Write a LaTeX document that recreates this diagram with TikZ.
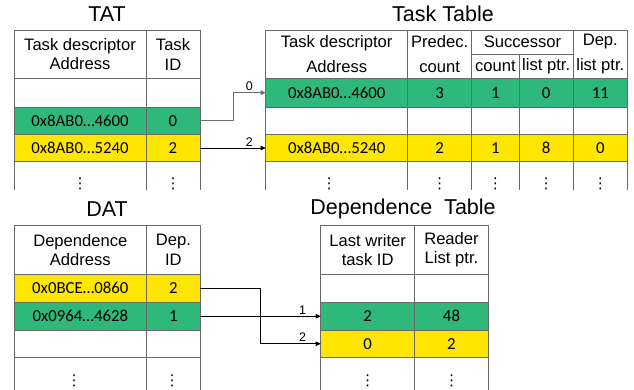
\documentclass[tikz,border=0pt]{standalone}
\usepackage{fontspec}
\setmainfont{Liberation Sans}
\newfontfamily\datafont{Carlito}
\newfontfamily\symfont{DejaVu Sans}
\usetikzlibrary{arrows.meta}
\definecolor{cgreen}{RGB}{46,184,122}
\definecolor{cyellow}{RGB}{255,230,0}
\definecolor{gridc}{RGB}{105,105,105}
\definecolor{arrgray}{RGB}{110,110,110}
\tikzset{
  cellbox/.style={draw=gridc,line width=0.9pt,inner sep=0pt,outer sep=0pt,align=center,
    font=\datafont\fontsize{16.8}{19}\selectfont},
  hdr/.style={font=\fontsize{16.6}{19.5}\selectfont},
  hdrtt/.style={font=\fontsize{16.6}{24.5}\selectfont},
  title/.style={font=\fontsize{21.5}{24}\selectfont,inner sep=0pt},
  openline/.style={draw=gridc,line width=0.9pt},
  dotsnode/.style={inner sep=0pt,font=\symfont\fontsize{15}{15}\selectfont},
  arr/.style={line width=0.8pt,-{Triangle[length=5pt,width=4.5pt]}},
  arrlab/.style={font=\fontsize{12.5}{12.5}\selectfont,inner sep=1.5pt}
}
\newcommand\mycell[8][]{\node[cellbox,#1,fill=#7,minimum width={#5-#3},minimum height={#6-#4}] (#2) at ({(#3+#5)/2},{(#4+#6)/2}) {#8};}
\begin{document}
\begin{tikzpicture}[x=1pt,y=-1pt]
\useasboundingbox (0,0) rectangle (634,390);
% ---------------- TAT ----------------
\node[title] (tat-title) at (107,14) {TAT};
\mycell[hdr]{tat-h1}{14}{30}{146}{78.5}{white}{Task descriptor\\Address}
\mycell[hdr]{tat-h2}{146}{30}{200}{78.5}{white}{Task\\ID}
\mycell{tat-e1}{14}{78.5}{146}{107}{white}{}
\mycell{tat-e2}{146}{78.5}{200}{107}{white}{}
\mycell{tat-g-addr}{14}{107}{146}{134.5}{cgreen}{0x8AB0…4600}
\mycell{tat-g-id}{146}{107}{200}{134.5}{cgreen}{0}
\mycell{tat-y-addr}{14}{134.5}{146}{161.5}{cyellow}{0x8AB0…5240}
\mycell{tat-y-id}{146}{134.5}{200}{161.5}{cyellow}{2}
\foreach \xx in {14,146,200} \draw[openline] (\xx,161.5) -- (\xx,190);
\node[dotsnode] (tat-d1) at (80,183.5) {⋮};
\node[dotsnode] (tat-d2) at (173,183.5) {⋮};
% ---------------- Task Table ----------------
\node[title] (tt-title) at (443,14) {Task Table};
\mycell[hdrtt]{tt-h-addr}{265.7}{30}{407.7}{78.5}{white}{Task descriptor\\Address}
\mycell[hdrtt]{tt-h-pred}{407.7}{30}{471.7}{78.5}{white}{Predec.\\count}
\mycell[hdr]{tt-h-succ}{471.7}{30}{573.3}{54}{white}{Successor}
\mycell[hdr]{tt-h-sc}{471.7}{54}{519}{78.5}{white}{count}
\mycell[hdr]{tt-h-sl}{519}{54}{573.3}{78.5}{white}{list ptr.}
\mycell[hdrtt]{tt-h-dep}{573.3}{30}{627.3}{78.5}{white}{Dep.\\list ptr.}
\mycell{tt-g-addr}{265.7}{78.5}{407.7}{107}{cgreen}{0x8AB0…4600}
\mycell{tt-g-pred}{407.7}{78.5}{471.7}{107}{cgreen}{3}
\mycell{tt-g-sc}{471.7}{78.5}{519}{107}{cgreen}{1}
\mycell{tt-g-sl}{519}{78.5}{573.3}{107}{cgreen}{0}
\mycell{tt-g-dep}{573.3}{78.5}{627.3}{107}{cgreen}{11}
\mycell{tt-e-addr}{265.7}{107}{407.7}{134.5}{white}{}
\mycell{tt-e-pred}{407.7}{107}{471.7}{134.5}{white}{}
\mycell{tt-e-sc}{471.7}{107}{519}{134.5}{white}{}
\mycell{tt-e-sl}{519}{107}{573.3}{134.5}{white}{}
\mycell{tt-e-dep}{573.3}{107}{627.3}{134.5}{white}{}
\mycell{tt-y-addr}{265.7}{134.5}{407.7}{161.5}{cyellow}{0x8AB0…5240}
\mycell{tt-y-pred}{407.7}{134.5}{471.7}{161.5}{cyellow}{2}
\mycell{tt-y-sc}{471.7}{134.5}{519}{161.5}{cyellow}{1}
\mycell{tt-y-sl}{519}{134.5}{573.3}{161.5}{cyellow}{8}
\mycell{tt-y-dep}{573.3}{134.5}{627.3}{161.5}{cyellow}{0}
\foreach \xx in {265.7,407.7,471.7,519,573.3,627.3} \draw[openline] (\xx,161.5) -- (\xx,190);
\node[dotsnode] (tt-d1) at (329,183.5) {⋮};
\node[dotsnode] (tt-d2) at (439.7,183.5) {⋮};
\node[dotsnode] (tt-d3) at (495.3,183.5) {⋮};
\node[dotsnode] (tt-d4) at (546.2,183.5) {⋮};
\node[dotsnode] (tt-d5) at (600.3,183.5) {⋮};
% ---------------- DAT ----------------
\node[title] (dat-title) at (107,209) {DAT};
\mycell[hdr]{dat-h1}{14}{225.7}{146.7}{274}{white}{Dependence\\Address}
\mycell[hdr]{dat-h2}{146.7}{225.7}{200}{274}{white}{Dep.\\ID}
\mycell{dat-y-addr}{14}{274}{146.7}{302.5}{cyellow}{0x0BCE…0860}
\mycell{dat-y-id}{146.7}{274}{200}{302.5}{cyellow}{2}
\mycell{dat-g-addr}{14}{302.5}{146.7}{330}{cgreen}{0x0964…4628}
\mycell{dat-g-id}{146.7}{302.5}{200}{330}{cgreen}{1}
\mycell{dat-e1}{14}{330}{146.7}{357.5}{white}{}
\mycell{dat-e2}{146.7}{330}{200}{357.5}{white}{}
\foreach \xx in {14,146.7,200} \draw[openline] (\xx,357.5) -- (\xx,390);
\node[dotsnode] (dat-d1) at (74,380.5) {⋮};
\node[dotsnode] (dat-d2) at (172,380.5) {⋮};
% ---------------- Dependence Table ----------------
\node[title] (dt-title) at (403,209) {Dependence\hspace{6pt} Table};
\mycell[hdr]{dt-h1}{320.7}{225.7}{414.7}{274}{white}{Last writer\\task ID}
\mycell[hdr]{dt-h2}{414.7}{225.7}{488.3}{274}{white}{Reader\\List ptr.}
\mycell{dt-e-w}{320.7}{274}{414.7}{302.5}{white}{}
\mycell{dt-e-r}{414.7}{274}{488.3}{302.5}{white}{}
\mycell{dt-g-w}{320.7}{302.5}{414.7}{330}{cgreen}{2}
\mycell{dt-g-r}{414.7}{302.5}{488.3}{330}{cgreen}{48}
\mycell{dt-y-w}{320.7}{330}{414.7}{357.5}{cyellow}{0}
\mycell{dt-y-r}{414.7}{330}{488.3}{357.5}{cyellow}{2}
\foreach \xx in {320.7,414.7,488.3} \draw[openline] (\xx,357.5) -- (\xx,390);
\node[dotsnode] (dt-d1) at (367.7,380.5) {⋮};
\node[dotsnode] (dt-d2) at (451.5,380.5) {⋮};
% ---------------- connectors ----------------
\draw[arr,arrgray] (tat-g-id.east) -- ++(33,0) |- node[pos=0.75,above,arrlab,text=black] {0} (tt-g-addr.west);
\draw[arr] (tat-y-id.east) -- node[pos=0.75,above,arrlab] {2} (tt-y-addr.west);
\draw[arr] (dat-y-id.east) -- ++(60,0) |- node[pos=0.85,above,arrlab] {2} (dt-y-w.west);
\draw[arr] (dat-g-id.east) -- node[pos=0.85,above,arrlab] {1} (dt-g-w.west);
\end{tikzpicture}
\end{document}
